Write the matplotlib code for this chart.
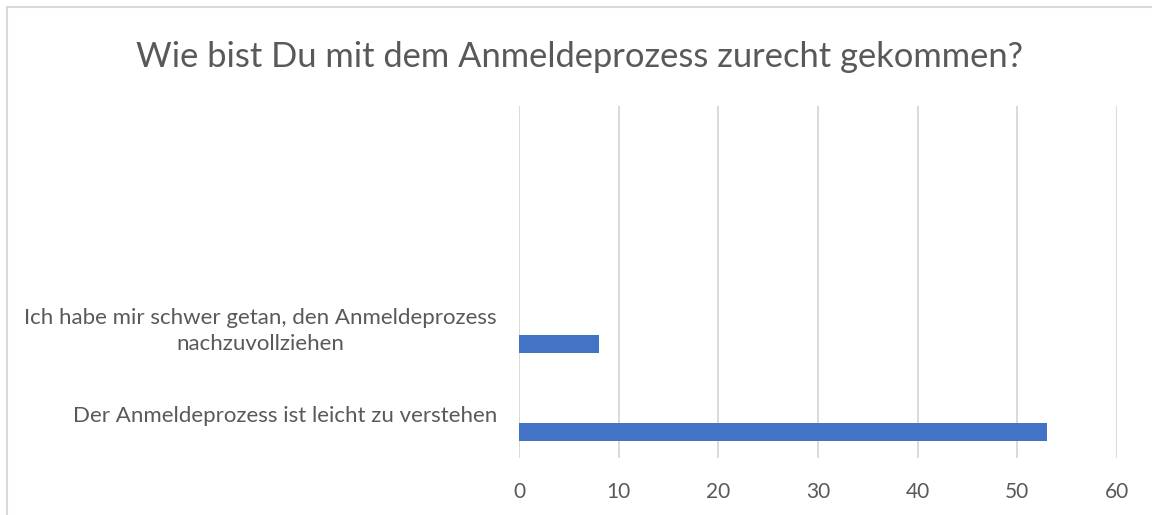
import matplotlib
matplotlib.use("Agg")
import matplotlib.pyplot as plt
import numpy as np
from matplotlib.lines import Line2D

# ---- data ----
title = "Wie bist Du mit dem Anmeldeprozess zurecht gekommen?"
categories = [
    "Der Anmeldeprozess ist leicht zu verstehen",
    "Ich habe mir schwer getan, den Anmeldeprozess\nnachzuvollziehen",
    "",
    "",
]
values = [53, 8]
x_ticks = [0, 10, 20, 30, 40, 50, 60]

# ---- style ----
bar_color = "#4472C4"
grid_color = "#D9D9D9"
text_color = "#595959"
font = ["Lato", "DejaVu Sans"]

plt.rcParams["font.family"] = font

fig = plt.figure(figsize=(11.52, 5.15), dpi=100)
W, H = 1152, 515
ax = fig.add_axes([519 / W, (H - 458) / H, (1117 - 519) / W, (458 - 106) / H])

pos = np.arange(len(categories))
bar_offset = -0.2
ax.barh(pos[:len(values)] + bar_offset, values, height=0.205, color=bar_color, zorder=3)

ax.set_ylim(-0.5, len(categories) - 0.5)
ax.set_xlim(x_ticks[0], x_ticks[-1])
ax.set_xticks(x_ticks)
ax.set_xticklabels([str(t) for t in x_ticks])
ax.set_yticks(pos)
ax.set_yticklabels(categories)

for s in ax.spines.values():
    s.set_visible(False)
ax.grid(axis="x", color=grid_color, linewidth=1.4, zorder=0)
ax.tick_params(axis="x", length=0, labelsize=15, colors=text_color, pad=17)
ax.tick_params(axis="y", length=0, labelsize=16, colors=text_color, pad=16)
for lbl in ax.get_yticklabels():
    lbl.set_multialignment("center")
    lbl.set_linespacing(1.4)

fig.text(0.503, 1 - 57 / H, title, ha="center", va="center", fontsize=24.8, color=text_color)

# chart border (top and left visible)
fig.add_artist(Line2D([7 / W, 1.0], [1 - 7 / H, 1 - 7 / H], color=grid_color, lw=1.5, transform=fig.transFigure))
fig.add_artist(Line2D([7 / W, 7 / W], [0.0, 1 - 7 / H], color=grid_color, lw=1.5, transform=fig.transFigure))

fig.savefig("out.png", dpi=100)
